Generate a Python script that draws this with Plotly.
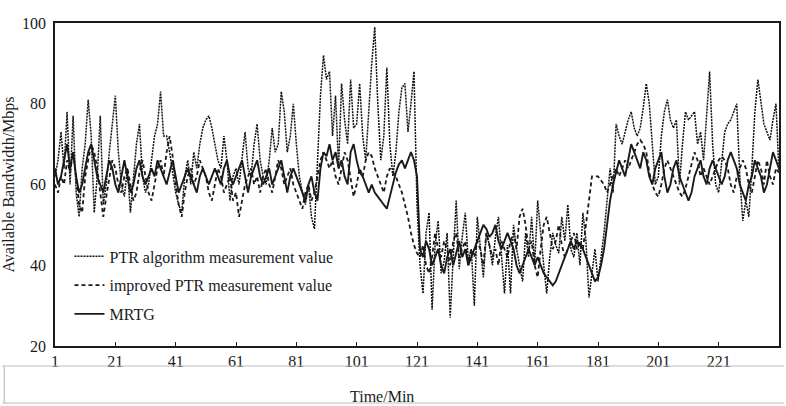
import plotly.graph_objects as go

# ---- data ----
x_tick_vals = [1, 21, 41, 61, 81, 101, 121, 141, 161, 181, 201, 221]
y_tick_vals = [20, 40, 60, 80, 100]

ptr_values = [
    62, 66, 73, 64, 78, 60, 77, 58, 52, 64,
    70, 81, 72, 53, 62, 77, 55, 60, 68, 75,
    82, 68, 60, 57, 64, 53, 62, 70, 75, 62,
    58, 60, 66, 72, 75, 83, 72, 72, 68, 63,
    58, 55, 53, 62, 66, 60, 68, 64, 70, 74,
    76, 77, 74, 70, 66, 64, 72, 66, 56, 62,
    64, 60, 66, 73, 64, 62, 70, 75, 66, 62,
    60, 66, 74, 68, 70, 83, 78, 68, 72, 80,
    70, 62, 58, 55, 60, 52, 49, 64, 82, 92,
    86, 88, 72, 82, 64, 85, 76, 70, 86, 74,
    75, 85, 72, 66, 78, 90, 99, 80, 66, 72,
    89, 70, 62, 68, 78, 84, 85, 73, 80, 88,
    55, 40, 33, 48, 53, 29, 45, 51, 38, 41,
    48, 27, 42, 56, 39, 47, 53, 41, 44, 30,
    52, 44, 37, 48, 45, 40, 47, 52, 43, 33,
    45, 33, 50, 44, 40, 36, 48, 42, 52, 40,
    56, 47, 40, 33, 42, 48, 45, 43, 52, 46,
    55, 44, 42, 48, 40, 53, 46, 32, 38, 44,
    36, 42, 48, 56, 64, 58, 75, 72, 70, 73,
    76, 78, 74, 72, 74, 79, 85, 80, 70, 60,
    62, 72, 78, 81, 76, 74, 76, 60, 70, 78,
    76, 77, 78, 70, 73, 66, 78, 88, 70, 60,
    58, 66, 73, 75, 76, 78, 80, 62, 51, 56,
    52, 64, 78, 86, 80, 75, 73, 71, 76, 80, 63,
]

improved_values = [
    60, 58, 62, 60, 66, 63, 68, 61, 55, 53,
    62, 66, 70, 68, 64, 58, 52, 57, 62, 66,
    64, 60, 58, 62, 64, 60, 56, 58, 63, 66,
    62, 58, 56, 60, 64, 66, 62, 68, 72, 67,
    60, 55, 52, 58, 62, 64, 60, 62, 66, 64,
    62, 58, 56, 60, 64, 62, 58, 60, 62, 56,
    58, 52, 56, 60, 62, 64, 60, 62, 58, 62,
    64, 60, 58, 62, 66, 64, 60, 62, 64, 60,
    58, 56, 54, 58, 60, 56, 58, 62, 66, 68,
    66, 64, 66, 62, 60, 64, 68, 66, 62, 57,
    60, 64, 62, 66, 68, 67, 64, 62, 60, 58,
    62, 64, 63, 62, 60, 58, 55, 52, 48, 45,
    43, 42, 45, 40, 38, 42, 48, 44, 42, 46,
    44, 40, 46, 48, 42, 44, 46, 40, 44, 42,
    46, 44, 40, 48, 45, 42, 44, 40, 46, 44,
    42, 46, 48, 44, 52, 54, 50, 44, 46, 40,
    37, 44, 50, 52, 48, 44, 46, 50, 45, 42,
    44, 46, 48, 44, 46, 44, 50, 57, 62, 62,
    62, 61, 60, 58, 60, 62, 64, 62, 64, 66,
    64, 66, 68, 70, 71, 70, 68, 63, 60, 58,
    57, 60, 64, 66, 64, 62, 60, 58, 57, 59,
    62, 65, 68, 66, 62, 64, 62, 60, 62, 64,
    66, 67, 66, 64, 60, 58, 62, 64, 66, 64,
    60, 58, 62, 66, 64, 60, 66, 62, 60, 64, 63,
]

mrtg_values = [
    64, 60, 62, 66, 70, 64, 68, 62, 58, 60,
    64, 68, 70, 66, 62, 60, 58, 62, 66, 64,
    60, 58, 62, 66, 62, 58, 60, 64, 66, 62,
    60, 62, 64, 62, 66, 64, 62, 60, 63, 66,
    62, 58, 60, 62, 64, 62, 60, 58, 62, 64,
    62, 60, 62, 64, 62, 60, 64, 66, 62, 60,
    62, 64, 66, 62, 58, 62, 64, 66, 62, 60,
    62, 64, 60, 62, 64, 66, 62, 58, 62, 64,
    62, 60, 58, 56, 60, 62, 58, 56, 64, 68,
    67, 70, 66, 68, 64, 66, 62, 60, 68, 70,
    66, 63, 62, 60, 58, 60, 58, 57, 56, 55,
    54, 57, 60, 63, 65, 66, 64, 66, 68, 66,
    62, 44, 42, 46, 44, 40, 42, 44, 40, 38,
    42, 44, 40, 43, 46, 42, 44, 40, 42, 44,
    46, 48, 50, 49, 47, 48, 50, 46, 44, 46,
    48, 46, 44, 40, 38, 40, 42, 44, 42, 40,
    42, 40, 38, 37, 36, 35, 36, 38, 40, 42,
    44, 46, 44, 46, 45, 44, 42, 40, 38, 36,
    37, 40, 44, 50, 56, 60, 63, 66, 64, 62,
    66, 70, 68, 66, 64, 68, 66, 62, 60, 64,
    66, 68, 62, 58, 60, 64, 66, 62, 60, 58,
    56, 58, 62, 64, 66, 62, 60, 64, 66, 64,
    62, 60, 62, 66, 68, 66, 64, 60, 58, 56,
    60, 62, 66, 64, 62, 58, 60, 64, 68, 66, 64,
]

time_min = list(range(1, len(ptr_values) + 1))

series_names = ["PTR algorithm measurement value",
                "improved PTR measurement value",
                "MRTG"]

FONT = "Liberation Serif, Times New Roman, serif"
INK = "#1a1a1a"

fig = go.Figure()
fig.add_trace(go.Scatter(
    x=time_min, y=ptr_values, mode="lines", name=series_names[0],
    legendgroup="a",
    line=dict(color="#111111", width=1.5, dash="2px,1px"),
))
fig.add_trace(go.Scatter(
    x=time_min, y=improved_values, mode="lines", name=series_names[1],
    legendgroup="b",
    line=dict(color=INK, width=1.8, dash="4px,3px"),
))
fig.add_trace(go.Scatter(
    x=time_min, y=mrtg_values, mode="lines", name=series_names[2],
    legendgroup="c",
    line=dict(color=INK, width=1.9),
))

# grey frame below the plot holding the x-axis title
y_top = -20 / 323
y_bot = -57 / 323
x_l = -53 / 728
x_r = 733 / 728
for (x0, y0, x1, y1) in [(x_l, y_top, x_r, y_top),
                         (x_l + 2 / 728, y_top, x_l + 2 / 728, y_bot),
                         (x_l, y_bot, x_r, y_bot)]:
    fig.add_shape(type="line", xref="paper", yref="paper",
                  x0=x0, y0=y0, x1=x1, y1=y1,
                  line=dict(color="#bdbdbd", width=1.2))

fig.add_annotation(text="Time/Min", xref="paper", yref="paper",
                   x=(382 - 53) / 728, y=-40 / 323, xanchor="center",
                   yanchor="top", showarrow=False,
                   font=dict(family=FONT, size=16, color=INK))

fig.update_layout(
    width=786, height=406,
    margin=dict(l=53, r=5, t=23, b=60),
    paper_bgcolor="white", plot_bgcolor="white",
    font=dict(family=FONT, size=16, color=INK),
    showlegend=True,
    legend=dict(x=0.02, y=0.33, xanchor="left", yanchor="top",
                bgcolor="rgba(0,0,0,0)", tracegroupgap=5,
                font=dict(family=FONT, size=16, color=INK)),
)
fig.update_xaxes(
    range=[1, 241], tickvals=x_tick_vals,
    ticktext=[str(v) for v in x_tick_vals],
    ticks="inside", ticklen=4, tickwidth=1.2, tickcolor=INK,
    showline=True, linecolor=INK, linewidth=1.6, mirror=True,
    showgrid=False, zeroline=False,
    tickfont=dict(family=FONT, size=16, color=INK),
)
fig.update_yaxes(
    range=[20, 100], tickvals=y_tick_vals,
    ticks="", showline=True, linecolor=INK, linewidth=1.6, mirror=True,
    showgrid=False, zeroline=False, ticklabelstandoff=4,
    title=dict(text="Available Bandwidth/Mbps", standoff=6,
               font=dict(family=FONT, size=16, color=INK)),
    tickfont=dict(family=FONT, size=16, color=INK),
)

fig.write_html("out.html")
